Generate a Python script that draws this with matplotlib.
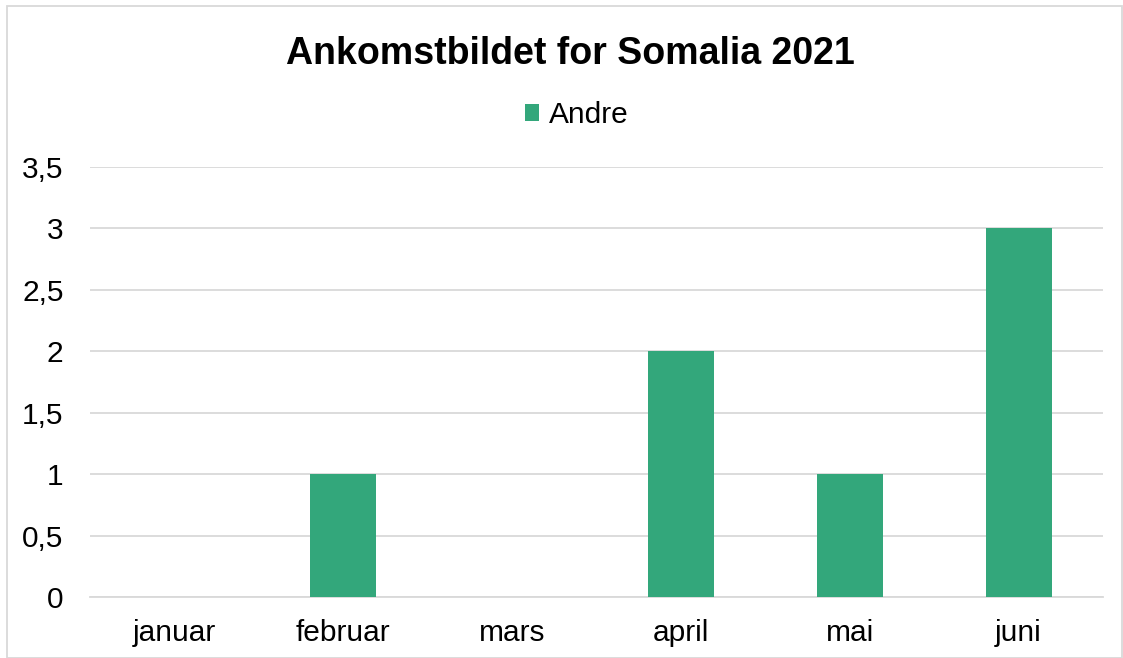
import matplotlib.pyplot as plt
from matplotlib.patches import Rectangle

# data
months = ['januar', 'februar', 'mars', 'april', 'mai', 'juni']
andre = [0, 1, 0, 2, 1, 3]
yticks = [0, 0.5, 1, 1.5, 2, 2.5, 3, 3.5]
ytick_labels = ['0', '0,5', '1', '1,5', '2', '2,5', '3', '3,5']

plt.rcParams['font.family'] = ['Liberation Sans', 'DejaVu Sans']

W, H = 1123, 658
fig = plt.figure(figsize=(W / 100, H / 100), dpi=100)
ax = fig.add_axes([90 / W, 1 - 597 / H, (1103 - 90) / W, (597 - 167) / H])

bar_color = '#33A77B'
x = range(len(months))
ax.bar(x, andre, width=0.39, color=bar_color, label='Andre', zorder=3)

ax.set_xlim(-0.5, len(months) - 0.5)
ax.set_ylim(0, 3.5)
ax.set_yticks(yticks)
ax.set_yticklabels(ytick_labels)
ax.set_xticks(list(x))
ax.set_xticklabels(months)
ax.tick_params(axis='y', length=0, pad=19, labelsize=21.5, colors='#000000')
ax.tick_params(axis='x', length=0, pad=16, labelsize=21.5, colors='#000000')
ax.grid(axis='y', color='#D9D9D9', linewidth=1.3, zorder=0)
for s in ['top', 'right', 'left']:
    ax.spines[s].set_visible(False)
ax.spines['bottom'].set_color('#D9D9D9')
ax.spines['bottom'].set_linewidth(1.3)

fig.text(570 / W, 1 - 54 / H, 'Ankomstbildet for Somalia 2021', ha='center', va='center',
         fontsize=27, fontweight='bold')

ax.legend(loc='center', bbox_to_anchor=(577 / W, 1 - 115 / H), bbox_transform=fig.transFigure,
          frameon=False, fontsize=21.5, handlelength=0.47, handleheight=0.47, handletextpad=0.35)

# chart border
fig.patches.append(Rectangle((7 / W, 0), (W - 8) / W, 1 - 6 / H, transform=fig.transFigure,
                             fill=False, edgecolor='#D9D9D9', linewidth=1.3))

fig.savefig('out.png', dpi=100)
